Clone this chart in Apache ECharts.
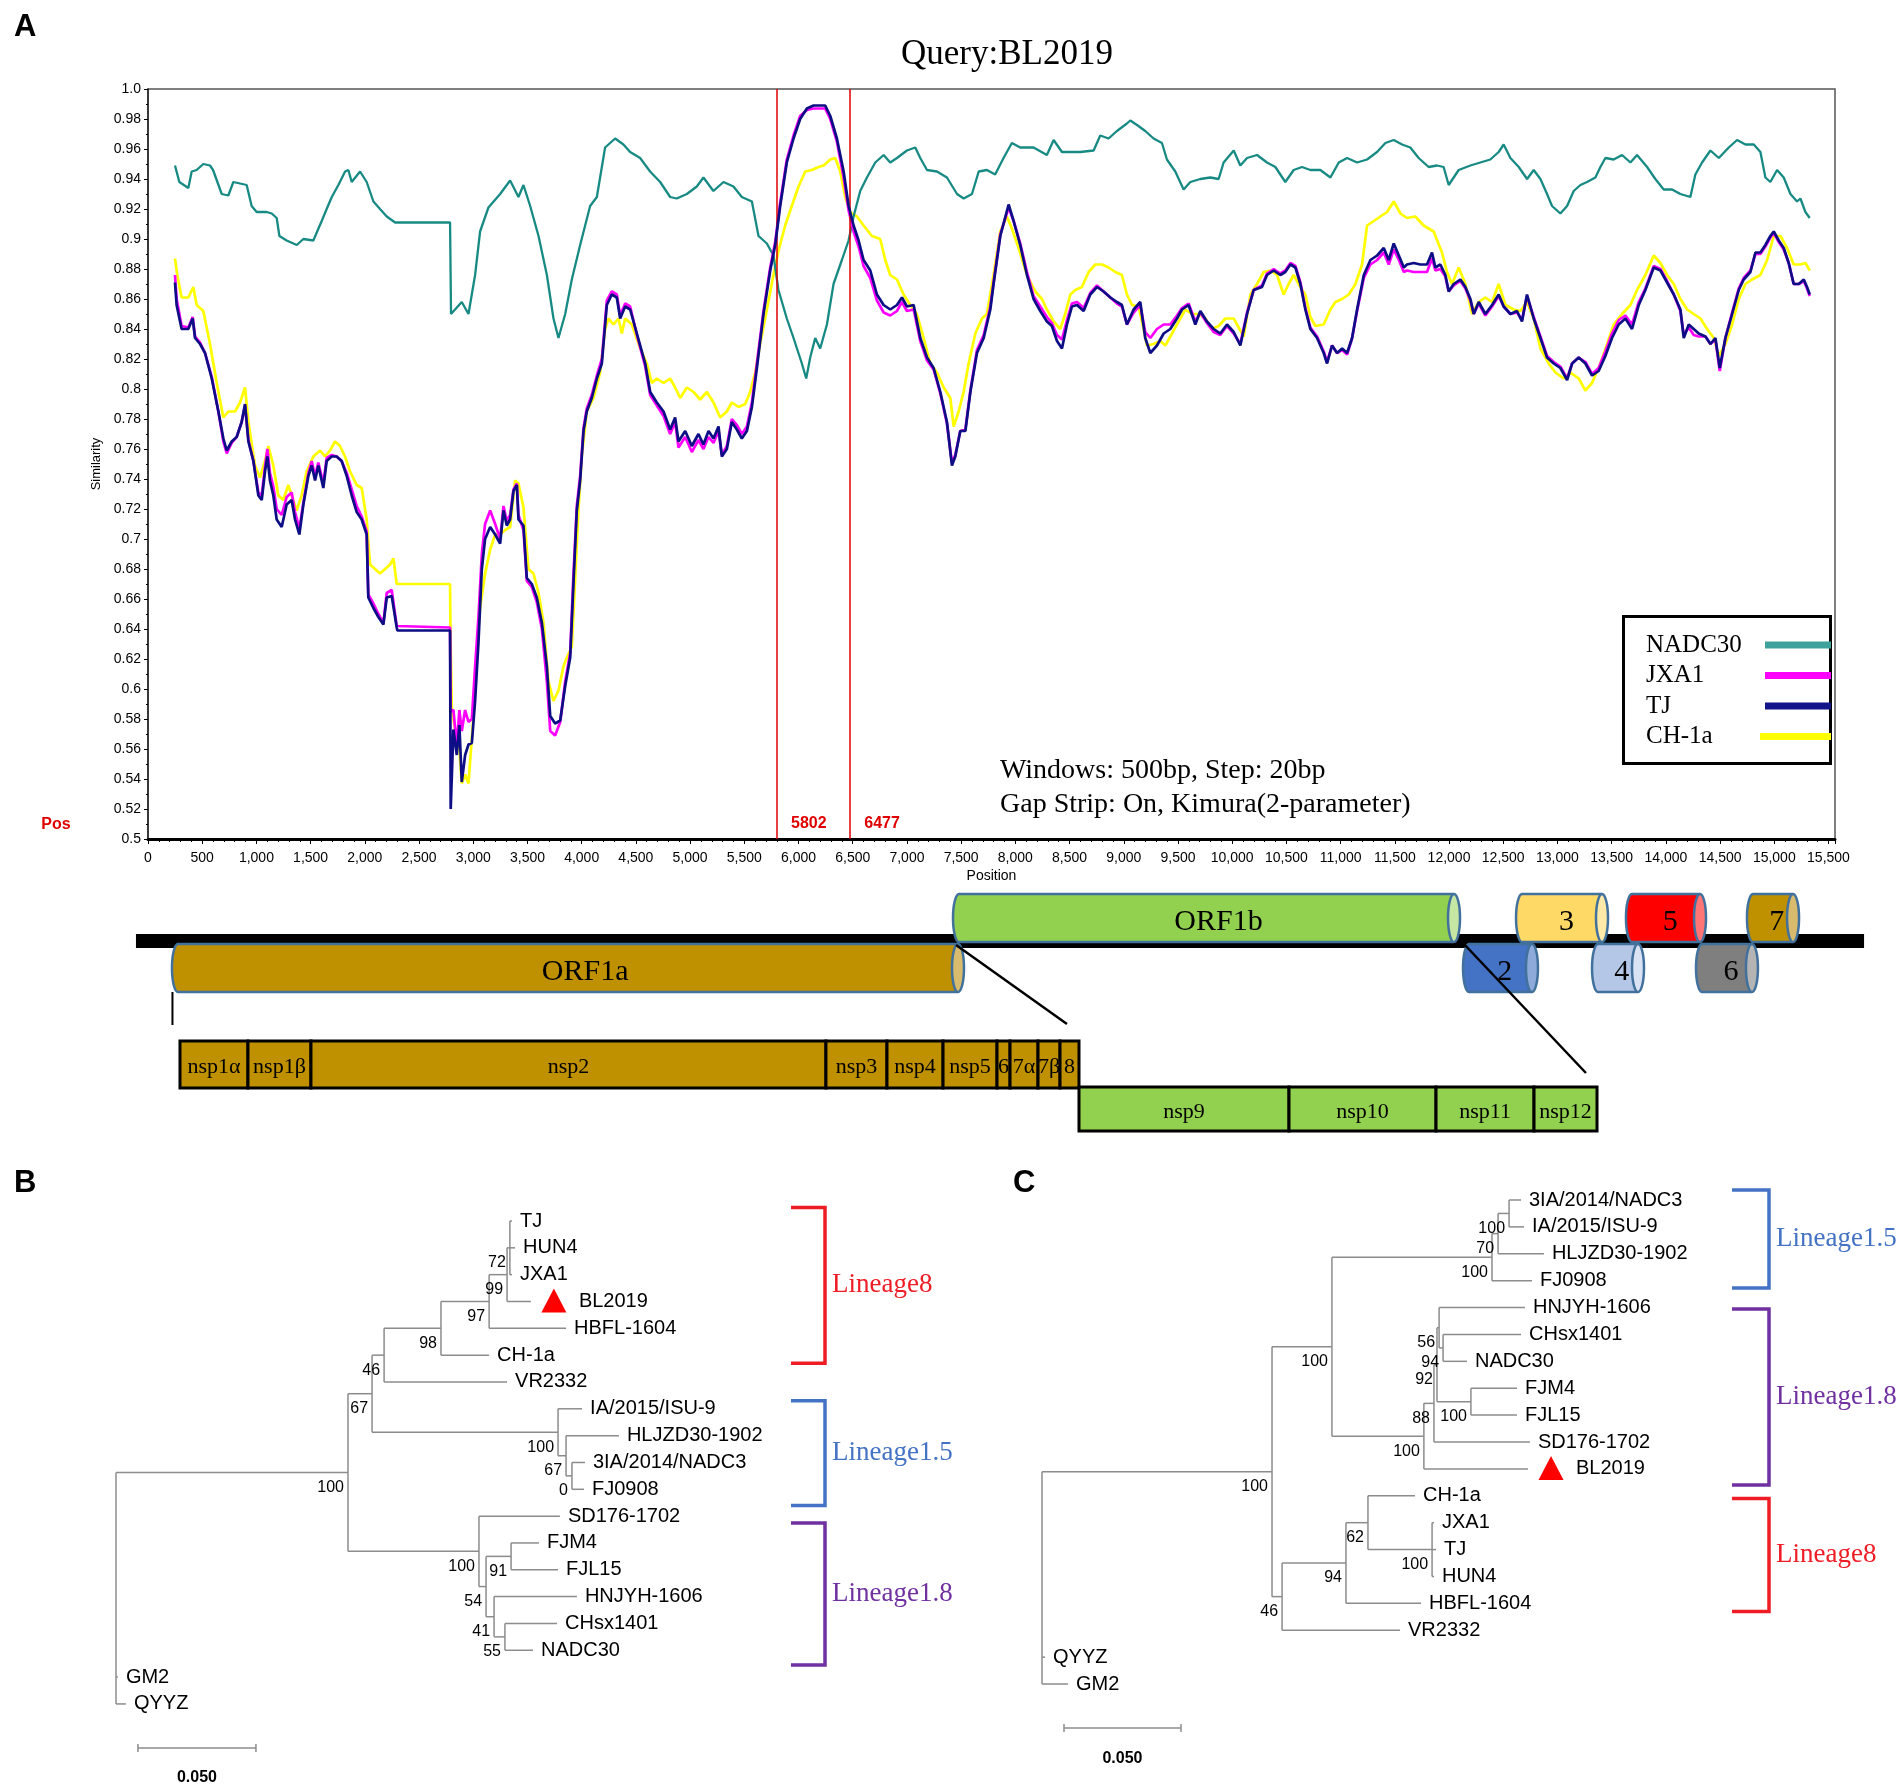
<!DOCTYPE html>
<html lang="en">
<head>
<meta charset="utf-8">
<title>Query:BL2019</title>
<script src="https://cdn.jsdelivr.net/npm/echarts@6/dist/echarts.min.js"></script>
<style>
  html, body { margin: 0; padding: 0; background: #ffffff; }
  #chart { width: 1902px; height: 1791px; }
</style>
</head>
<body>
<div id="chart"></div>
<script>
// ---------- A: similarity plot, query BL2019 (window 500 bp, step 20 bp) ----------
const breakpoints = [5802, 6477];

const nadc30Sim = [[249,0.949],[289,0.938],[372,0.934],[403,0.945],[449,0.946],[510,0.950],[572,0.949],[600,0.946],[680,0.930],[741,0.929],[787,0.938],[849,0.937],[910,0.936],[956,0.922],[1002,0.918],[1095,0.918],[1141,0.917],[1187,0.914],[1212,0.902],[1279,0.899],[1372,0.896],[1433,0.900],[1525,0.899],[1602,0.912],[1648,0.920],[1695,0.928],[1756,0.936],[1818,0.945],[1848,0.946],[1879,0.938],[1956,0.945],[2017,0.938],[2079,0.925],[2140,0.920],[2202,0.915],[2279,0.911],[2786,0.911],[2795,0.850],[2832,0.853],[2894,0.858],[2956,0.850],[3017,0.876],[3063,0.905],[3140,0.921],[3248,0.930],[3340,0.939],[3417,0.928],[3463,0.936],[3525,0.922],[3602,0.902],[3679,0.876],[3740,0.847],[3786,0.834],[3848,0.850],[3909,0.873],[3986,0.896],[4078,0.922],[4140,0.928],[4216,0.961],[4309,0.967],[4385,0.963],[4447,0.958],[4539,0.954],[4631,0.945],[4724,0.938],[4816,0.928],[4877,0.927],[4970,0.930],[5062,0.935],[5123,0.941],[5215,0.932],[5308,0.938],[5400,0.935],[5477,0.928],[5570,0.925],[5631,0.902],[5708,0.897],[5769,0.889],[5815,0.866],[5892,0.847],[5954,0.834],[6031,0.817],[6071,0.807],[6108,0.821],[6154,0.834],[6200,0.827],[6262,0.843],[6323,0.870],[6400,0.886],[6462,0.899],[6508,0.915],[6569,0.932],[6631,0.941],[6708,0.951],[6785,0.956],[6846,0.951],[6908,0.954],[7000,0.959],[7077,0.961],[7123,0.954],[7185,0.946],[7277,0.945],[7369,0.941],[7462,0.930],[7523,0.927],[7600,0.930],[7662,0.945],[7738,0.946],[7814,0.943],[7891,0.954],[7968,0.964],[8045,0.961],[8168,0.961],[8291,0.956],[8353,0.966],[8430,0.958],[8522,0.958],[8599,0.958],[8722,0.959],[8783,0.969],[8860,0.967],[8937,0.972],[9029,0.977],[9060,0.979],[9122,0.976],[9198,0.972],[9275,0.967],[9352,0.964],[9398,0.953],[9475,0.945],[9552,0.933],[9614,0.938],[9706,0.940],[9798,0.941],[9875,0.940],[9921,0.951],[10014,0.959],[10075,0.949],[10137,0.954],[10229,0.956],[10321,0.951],[10398,0.948],[10490,0.938],[10567,0.946],[10644,0.948],[10721,0.946],[10813,0.946],[10906,0.941],[10983,0.951],[11060,0.954],[11152,0.951],[11244,0.953],[11336,0.958],[11413,0.964],[11490,0.966],[11567,0.963],[11643,0.961],[11720,0.954],[11812,0.948],[11889,0.949],[11950,0.948],[11997,0.936],[12089,0.946],[12197,0.949],[12289,0.951],[12381,0.953],[12458,0.958],[12504,0.963],[12566,0.954],[12643,0.948],[12720,0.940],[12781,0.946],[12843,0.940],[12904,0.930],[12950,0.922],[13027,0.917],[13089,0.922],[13150,0.932],[13212,0.936],[13273,0.938],[13350,0.941],[13396,0.948],[13442,0.954],[13519,0.953],[13596,0.956],[13673,0.951],[13734,0.956],[13827,0.948],[13903,0.940],[13980,0.933],[14057,0.933],[14134,0.930],[14226,0.928],[14272,0.943],[14334,0.951],[14411,0.959],[14488,0.954],[14580,0.961],[14657,0.966],[14734,0.963],[14811,0.963],[14872,0.958],[14918,0.941],[14964,0.938],[15026,0.946],[15087,0.941],[15149,0.930],[15210,0.925],[15241,0.927],[15287,0.918],[15327,0.914]];

const jxa1Sim = [[249,0.876],[264,0.860],[310,0.842],[372,0.841],[412,0.848],[434,0.835],[480,0.831],[526,0.824],[588,0.808],[649,0.785],[695,0.765],[726,0.757],[772,0.764],[818,0.768],[864,0.778],[895,0.789],[926,0.766],[972,0.752],[1018,0.731],[1049,0.729],[1079,0.748],[1101,0.760],[1125,0.744],[1156,0.735],[1187,0.720],[1233,0.716],[1279,0.728],[1325,0.731],[1356,0.718],[1396,0.707],[1433,0.724],[1479,0.744],[1510,0.752],[1541,0.742],[1571,0.751],[1617,0.737],[1648,0.754],[1694,0.756],[1740,0.755],[1786,0.752],[1833,0.744],[1879,0.733],[1925,0.722],[1971,0.715],[2017,0.705],[2032,0.663],[2079,0.657],[2125,0.650],[2171,0.644],[2202,0.664],[2248,0.666],[2294,0.642],[2300,0.641],[2786,0.641],[2792,0.585],[2817,0.586],[2848,0.562],[2872,0.586],[2894,0.572],[2925,0.586],[2956,0.578],[2987,0.580],[3017,0.615],[3048,0.648],[3079,0.690],[3109,0.710],[3156,0.719],[3202,0.710],[3248,0.700],[3279,0.722],[3309,0.712],[3340,0.716],[3371,0.733],[3402,0.737],[3417,0.716],[3463,0.706],[3494,0.672],[3540,0.668],[3586,0.658],[3633,0.640],[3679,0.605],[3710,0.572],[3755,0.569],[3802,0.578],[3848,0.605],[3894,0.624],[3924,0.676],[3955,0.722],[3986,0.742],[4017,0.774],[4047,0.787],[4093,0.796],[4140,0.809],[4186,0.820],[4232,0.859],[4278,0.865],[4324,0.863],[4355,0.849],[4401,0.857],[4447,0.855],[4509,0.836],[4586,0.815],[4632,0.796],[4693,0.789],[4755,0.782],[4816,0.770],[4862,0.778],[4893,0.761],[4955,0.768],[5016,0.758],[5077,0.766],[5123,0.760],[5170,0.768],[5216,0.764],[5262,0.772],[5293,0.756],[5339,0.762],[5385,0.780],[5431,0.776],[5477,0.770],[5524,0.775],[5570,0.791],[5616,0.817],[5677,0.852],[5739,0.881],[5785,0.898],[5831,0.924],[5892,0.953],[5954,0.969],[6015,0.982],[6077,0.986],[6139,0.987],[6246,0.987],[6293,0.980],[6354,0.965],[6416,0.941],[6462,0.919],[6508,0.905],[6554,0.895],[6600,0.882],[6662,0.874],[6723,0.859],[6785,0.851],[6846,0.849],[6908,0.852],[6954,0.858],[7000,0.852],[7062,0.853],[7123,0.832],[7185,0.819],[7246,0.813],[7308,0.797],[7369,0.777],[7415,0.751],[7446,0.756],[7492,0.772],[7539,0.773],[7585,0.799],[7646,0.826],[7708,0.836],[7769,0.855],[7799,0.871],[7861,0.903],[7938,0.921],[7984,0.912],[8045,0.897],[8107,0.878],[8168,0.862],[8230,0.855],[8291,0.848],[8337,0.844],[8384,0.836],[8430,0.833],[8476,0.846],[8522,0.857],[8568,0.858],[8630,0.854],[8691,0.864],[8753,0.869],[8814,0.865],[8876,0.861],[8937,0.857],[8983,0.855],[9029,0.843],[9091,0.851],[9152,0.856],[9198,0.838],[9245,0.834],[9306,0.840],[9368,0.843],[9429,0.843],[9491,0.849],[9537,0.854],[9598,0.857],[9660,0.845],[9706,0.851],[9767,0.844],[9829,0.838],[9890,0.836],[9952,0.842],[10014,0.837],[10075,0.830],[10137,0.851],[10198,0.866],[10275,0.869],[10321,0.877],[10383,0.880],[10444,0.877],[10490,0.879],[10537,0.884],[10583,0.882],[10629,0.871],[10675,0.854],[10721,0.841],[10783,0.835],[10844,0.825],[10875,0.818],[10921,0.829],[10967,0.824],[11014,0.826],[11060,0.823],[11106,0.834],[11152,0.852],[11214,0.874],[11275,0.883],[11337,0.886],[11398,0.891],[11444,0.883],[11490,0.893],[11537,0.886],[11583,0.878],[11612,0.879],[11674,0.878],[11735,0.878],[11797,0.878],[11843,0.887],[11874,0.879],[11920,0.880],[11966,0.875],[11997,0.865],[12043,0.869],[12105,0.872],[12151,0.867],[12197,0.859],[12228,0.850],[12274,0.857],[12335,0.849],[12397,0.855],[12458,0.862],[12504,0.855],[12566,0.850],[12627,0.851],[12673,0.846],[12719,0.862],[12781,0.848],[12843,0.835],[12904,0.822],[12966,0.818],[13027,0.815],[13089,0.807],[13135,0.817],[13196,0.821],[13258,0.818],[13319,0.810],[13380,0.814],[13442,0.825],[13503,0.837],[13565,0.846],[13627,0.849],[13688,0.843],[13750,0.858],[13811,0.867],[13888,0.882],[13950,0.880],[14011,0.872],[14073,0.863],[14134,0.852],[14165,0.836],[14211,0.841],[14257,0.836],[14303,0.835],[14365,0.835],[14411,0.830],[14457,0.833],[14497,0.812],[14549,0.834],[14611,0.851],[14672,0.867],[14718,0.874],[14780,0.879],[14826,0.890],[14872,0.890],[14918,0.895],[14964,0.901],[14995,0.904],[15041,0.898],[15087,0.893],[15133,0.884],[15179,0.870],[15226,0.870],[15272,0.872],[15302,0.867],[15327,0.862]];

const tjSim = [[249,0.871],[264,0.856],[310,0.840],[372,0.840],[412,0.847],[434,0.834],[480,0.830],[526,0.824],[588,0.807],[649,0.785],[695,0.767],[726,0.759],[772,0.765],[818,0.768],[864,0.778],[895,0.790],[926,0.765],[972,0.752],[1018,0.729],[1049,0.726],[1079,0.745],[1101,0.755],[1125,0.739],[1156,0.729],[1187,0.713],[1233,0.708],[1279,0.723],[1325,0.726],[1356,0.713],[1396,0.703],[1433,0.723],[1479,0.742],[1510,0.749],[1541,0.739],[1571,0.749],[1617,0.734],[1648,0.752],[1694,0.755],[1740,0.755],[1786,0.752],[1833,0.742],[1879,0.729],[1925,0.718],[1971,0.713],[2017,0.703],[2032,0.661],[2079,0.654],[2125,0.648],[2171,0.643],[2202,0.661],[2248,0.662],[2294,0.641],[2300,0.639],[2786,0.639],[2792,0.520],[2817,0.573],[2848,0.556],[2872,0.576],[2894,0.538],[2925,0.556],[2956,0.563],[2987,0.564],[3017,0.592],[3048,0.631],[3079,0.680],[3109,0.700],[3156,0.708],[3202,0.703],[3248,0.697],[3279,0.719],[3309,0.709],[3340,0.713],[3371,0.732],[3402,0.736],[3417,0.713],[3463,0.709],[3494,0.674],[3540,0.670],[3586,0.661],[3633,0.644],[3679,0.615],[3710,0.582],[3755,0.577],[3802,0.579],[3848,0.602],[3894,0.621],[3924,0.670],[3955,0.719],[3986,0.739],[4017,0.772],[4047,0.785],[4093,0.794],[4140,0.807],[4186,0.817],[4232,0.856],[4278,0.863],[4324,0.861],[4355,0.847],[4401,0.855],[4447,0.853],[4509,0.837],[4586,0.817],[4632,0.798],[4693,0.791],[4755,0.785],[4816,0.773],[4862,0.781],[4893,0.765],[4955,0.772],[5016,0.762],[5077,0.770],[5123,0.763],[5170,0.772],[5216,0.767],[5262,0.775],[5293,0.755],[5339,0.760],[5385,0.778],[5431,0.773],[5477,0.767],[5524,0.772],[5570,0.788],[5616,0.814],[5677,0.850],[5739,0.879],[5785,0.896],[5831,0.922],[5892,0.951],[5954,0.967],[6015,0.980],[6077,0.987],[6139,0.989],[6246,0.989],[6293,0.982],[6354,0.967],[6416,0.945],[6462,0.922],[6508,0.909],[6554,0.899],[6600,0.886],[6662,0.879],[6723,0.863],[6785,0.856],[6846,0.853],[6908,0.856],[6954,0.861],[7000,0.855],[7062,0.856],[7123,0.834],[7185,0.821],[7246,0.814],[7308,0.798],[7369,0.778],[7415,0.749],[7446,0.755],[7492,0.772],[7539,0.772],[7585,0.798],[7646,0.824],[7708,0.834],[7769,0.853],[7799,0.870],[7861,0.902],[7938,0.923],[7984,0.912],[8045,0.896],[8107,0.876],[8168,0.860],[8230,0.852],[8291,0.845],[8337,0.842],[8384,0.832],[8430,0.827],[8476,0.843],[8522,0.855],[8568,0.856],[8630,0.852],[8691,0.863],[8753,0.868],[8814,0.865],[8876,0.861],[8937,0.858],[8983,0.856],[9029,0.843],[9091,0.853],[9152,0.858],[9198,0.834],[9245,0.824],[9306,0.829],[9368,0.837],[9429,0.840],[9491,0.847],[9537,0.853],[9598,0.856],[9660,0.843],[9706,0.852],[9767,0.845],[9829,0.840],[9890,0.837],[9952,0.843],[10014,0.838],[10075,0.829],[10137,0.850],[10198,0.866],[10275,0.868],[10321,0.876],[10383,0.879],[10444,0.876],[10490,0.878],[10537,0.883],[10583,0.881],[10629,0.870],[10675,0.853],[10721,0.840],[10783,0.834],[10844,0.824],[10875,0.817],[10921,0.829],[10967,0.824],[11014,0.827],[11060,0.824],[11106,0.834],[11152,0.853],[11214,0.876],[11275,0.886],[11337,0.889],[11398,0.894],[11444,0.886],[11490,0.897],[11537,0.889],[11583,0.881],[11612,0.883],[11674,0.884],[11735,0.883],[11797,0.883],[11843,0.891],[11874,0.881],[11920,0.883],[11966,0.876],[11997,0.865],[12043,0.870],[12105,0.873],[12151,0.868],[12197,0.860],[12228,0.850],[12274,0.858],[12335,0.850],[12397,0.856],[12458,0.863],[12504,0.855],[12566,0.850],[12627,0.852],[12673,0.845],[12719,0.863],[12781,0.847],[12843,0.834],[12904,0.821],[12966,0.817],[13027,0.814],[13089,0.806],[13135,0.817],[13196,0.821],[13258,0.817],[13319,0.809],[13380,0.812],[13442,0.822],[13503,0.834],[13565,0.843],[13627,0.847],[13688,0.840],[13750,0.856],[13811,0.866],[13888,0.881],[13950,0.879],[14011,0.871],[14073,0.863],[14134,0.853],[14165,0.834],[14211,0.843],[14257,0.840],[14303,0.837],[14365,0.835],[14411,0.830],[14457,0.834],[14497,0.814],[14549,0.834],[14611,0.850],[14672,0.866],[14718,0.873],[14780,0.878],[14826,0.891],[14872,0.891],[14918,0.896],[14964,0.902],[14995,0.905],[15041,0.899],[15087,0.894],[15133,0.884],[15179,0.870],[15226,0.870],[15272,0.873],[15302,0.868],[15327,0.863]];

const ch1aSim = [[249,0.887],[270,0.876],[310,0.861],[372,0.861],[418,0.868],[449,0.856],[510,0.852],[572,0.830],[634,0.804],[695,0.781],[741,0.785],[803,0.785],[849,0.791],[895,0.801],[926,0.778],[987,0.749],[1033,0.741],[1079,0.752],[1110,0.762],[1156,0.749],[1202,0.729],[1248,0.726],[1294,0.736],[1325,0.729],[1371,0.719],[1417,0.729],[1463,0.745],[1525,0.755],[1587,0.759],[1633,0.755],[1679,0.759],[1725,0.765],[1771,0.762],[1817,0.755],[1864,0.745],[1925,0.736],[1971,0.734],[2017,0.713],[2048,0.683],[2094,0.680],[2140,0.677],[2187,0.680],[2233,0.683],[2264,0.687],[2294,0.670],[2786,0.670],[2790,0.638],[2802,0.586],[2833,0.573],[2863,0.569],[2894,0.537],[2925,0.543],[2956,0.537],[3002,0.582],[3033,0.625],[3063,0.654],[3109,0.677],[3156,0.693],[3202,0.703],[3248,0.703],[3294,0.706],[3340,0.708],[3386,0.739],[3417,0.737],[3463,0.721],[3509,0.680],[3555,0.677],[3602,0.664],[3648,0.644],[3694,0.605],[3740,0.592],[3786,0.599],[3832,0.615],[3863,0.621],[3909,0.628],[3940,0.674],[3970,0.719],[4001,0.755],[4047,0.785],[4109,0.794],[4170,0.811],[4216,0.840],[4247,0.847],[4293,0.843],[4340,0.847],[4370,0.837],[4401,0.847],[4463,0.843],[4540,0.827],[4601,0.817],[4647,0.804],[4693,0.807],[4755,0.804],[4816,0.807],[4862,0.801],[4909,0.794],[4970,0.801],[5032,0.798],[5093,0.793],[5155,0.798],[5216,0.791],[5277,0.781],[5339,0.785],[5385,0.791],[5447,0.788],[5508,0.790],[5554,0.798],[5600,0.811],[5646,0.830],[5708,0.853],[5769,0.876],[5815,0.892],[5877,0.909],[5938,0.922],[6000,0.935],[6062,0.945],[6123,0.946],[6185,0.948],[6231,0.949],[6293,0.953],[6339,0.954],[6385,0.945],[6431,0.928],[6477,0.918],[6539,0.915],[6600,0.909],[6677,0.902],[6754,0.900],[6800,0.886],[6846,0.876],[6908,0.873],[6969,0.863],[7031,0.856],[7092,0.850],[7154,0.834],[7216,0.817],[7277,0.811],[7339,0.801],[7400,0.794],[7431,0.775],[7477,0.785],[7523,0.798],[7569,0.817],[7631,0.837],[7692,0.847],[7738,0.850],[7799,0.876],[7861,0.905],[7922,0.915],[7968,0.907],[8030,0.894],[8107,0.876],[8184,0.865],[8245,0.860],[8291,0.853],[8353,0.845],[8414,0.840],[8460,0.850],[8507,0.863],[8553,0.866],[8614,0.868],[8676,0.878],[8737,0.883],[8799,0.883],[8860,0.881],[8922,0.878],[8983,0.876],[9029,0.863],[9076,0.856],[9137,0.855],[9183,0.840],[9214,0.829],[9275,0.830],[9337,0.832],[9383,0.829],[9445,0.837],[9506,0.845],[9568,0.853],[9629,0.850],[9691,0.850],[9752,0.847],[9814,0.840],[9875,0.842],[9937,0.847],[10014,0.847],[10106,0.835],[10168,0.863],[10229,0.870],[10291,0.878],[10352,0.879],[10414,0.876],[10475,0.863],[10521,0.870],[10567,0.876],[10629,0.868],[10675,0.863],[10721,0.848],[10767,0.842],[10844,0.843],[10906,0.853],[10952,0.858],[11014,0.860],[11075,0.863],[11137,0.870],[11198,0.883],[11244,0.909],[11306,0.912],[11367,0.915],[11429,0.918],[11490,0.925],[11552,0.917],[11612,0.914],[11689,0.915],[11766,0.909],[11858,0.905],[11935,0.891],[11981,0.878],[12028,0.870],[12089,0.881],[12151,0.870],[12212,0.850],[12274,0.858],[12335,0.861],[12397,0.858],[12458,0.870],[12520,0.856],[12597,0.853],[12658,0.852],[12719,0.858],[12781,0.847],[12843,0.827],[12920,0.817],[12981,0.811],[13058,0.807],[13120,0.811],[13196,0.807],[13258,0.799],[13319,0.804],[13396,0.817],[13458,0.830],[13519,0.843],[13596,0.850],[13673,0.856],[13734,0.866],[13811,0.876],[13888,0.889],[13950,0.884],[14011,0.876],[14073,0.870],[14134,0.860],[14196,0.853],[14257,0.850],[14319,0.847],[14380,0.840],[14442,0.834],[14488,0.822],[14549,0.830],[14611,0.843],[14672,0.860],[14734,0.870],[14795,0.873],[14872,0.876],[14934,0.886],[14995,0.902],[15057,0.902],[15118,0.894],[15179,0.883],[15241,0.883],[15287,0.884],[15327,0.879]];

// ---------- genome map, in nt on the same scale as the plot ----------
const genomeSpan = [-111, 15828];
const orfNames = ['ORF1a', 'ORF1b', '2', '3', '4', '5', '6', '7'];
const orfStart = [221, 7425, 12129, 12618, 13319, 13632, 14278, 14748];
const orfEnd   = [7471, 12046, 12765, 13411, 13743, 14315, 14794, 15173];
const orfTrack = ['lower', 'upper', 'lower', 'upper', 'lower', 'upper', 'lower', 'upper'];
// expanded nsp panel (schematic widths, same units)
const nspNames = ['nsp1\u03b1', 'nsp1\u03b2', 'nsp2', 'nsp3', 'nsp4', 'nsp5', '6', '7\u03b1', '7\u03b2', '8', 'nsp9', 'nsp10', 'nsp11', 'nsp12'];
const nspStart = [295, 922, 1503, 6253, 6816, 7333, 7831, 7951, 8209, 8412, 8587, 10524, 11880, 12784];
const nspEnd   = [922, 1503, 6253, 6816, 7333, 7831, 7951, 8209, 8412, 8587, 10524, 11880, 12784, 13365];
const nspRow   = [1, 1, 1, 1, 1, 1, 1, 1, 1, 1, 2, 2, 2, 2];
const linkFrom = [7453, 12129];
const linkTo   = [8476, 13263];

// ---------- B / C: trees; [node, parent, distance from root, bootstrap] ----------
const treeBNodes = [
  ['root', '', 0, ''],
  ['b100', 'root', 0.0983, '100'],
  ['b67', 'b100', 0.1085, '67'],
  ['b46', 'b67', 0.1136, '46'],
  ['b98', 'b46', 0.1377, '98'],
  ['b97', 'b98', 0.1581, '97'],
  ['b99', 'b97', 0.1657, '99'],
  ['b72', 'b99', 0.1669, '72'],
  ['TJ', 'b72', 0.1678, ''],
  ['HUN4', 'b72', 0.1691, ''],
  ['JXA1', 'b72', 0.1678, ''],
  ['BL2019', 'b99', 0.1758, ''],
  ['HBFL-1604', 'b97', 0.1907, ''],
  ['CH-1a', 'b98', 0.1581, ''],
  ['VR2332', 'b46', 0.1657, ''],
  ['bL15', 'b67', 0.1873, '100'],
  ['IA/2015/ISU-9', 'bL15', 0.1975, ''],
  ['b67b', 'bL15', 0.1907, '67'],
  ['HLJZD30-1902', 'b67b', 0.2131, ''],
  ['b0', 'b67b', 0.1932, '0'],
  ['3IA/2014/NADC3', 'b0', 0.1987, ''],
  ['FJ0908', 'b0', 0.1983, ''],
  ['bL18', 'b100', 0.1538, '100'],
  ['SD176-1702', 'bL18', 0.1881, ''],
  ['b54', 'bL18', 0.1568, '54'],
  ['b91', 'b54', 0.1674, '91'],
  ['FJM4', 'b91', 0.1792, ''],
  ['FJL15', 'b91', 0.1873, ''],
  ['b41', 'b54', 0.1602, '41'],
  ['HNJYH-1606', 'b41', 0.1953, ''],
  ['b55', 'b41', 0.1648, '55'],
  ['CHsx1401', 'b55', 0.1869, ''],
  ['NADC30', 'b55', 0.1767, ''],
  ['GM2', 'root', 0.0008, ''],
  ['QYYZ', 'root', 0.0042, '']
];

const treeCNodes = [
  ['root', '', 0, ''],
  ['c100', 'root', 0.0983, '100'],
  ['c100b', 'c100', 0.1239, '100'],
  ['cL15', 'c100b', 0.1923, '100'],
  ['c70', 'cL15', 0.1949, '70'],
  ['c100d', 'c70', 0.1996, '100'],
  ['3IA/2014/NADC3', 'c100d', 0.2047, ''],
  ['IA/2015/ISU-9', 'c100d', 0.2060, ''],
  ['HLJZD30-1902', 'c70', 0.2145, ''],
  ['FJ0908', 'cL15', 0.2094, ''],
  ['cL18', 'c100b', 0.1632, '100'],
  ['c88', 'cL18', 0.1675, '88'],
  ['c92', 'c88', 0.1688, '92'],
  ['c56', 'c92', 0.1697, '56'],
  ['HNJYH-1606', 'c56', 0.2064, ''],
  ['c94b', 'c56', 0.1714, '94'],
  ['CHsx1401', 'c94b', 0.2047, ''],
  ['NADC30', 'c94b', 0.1816, ''],
  ['c100e', 'c92', 0.1833, '100'],
  ['FJM4', 'c100e', 0.2030, ''],
  ['FJL15', 'c100e', 0.2030, ''],
  ['SD176-1702', 'c88', 0.2085, ''],
  ['BL2019', 'cL18', 0.2077, ''],
  ['c46', 'c100', 0.1026, '46'],
  ['c94', 'c46', 0.1299, '94'],
  ['c62', 'c94', 0.1393, '62'],
  ['CH-1a', 'c62', 0.1594, ''],
  ['c100f', 'c62', 0.1667, '100'],
  ['JXA1', 'c100f', 0.1675, ''],
  ['TJ', 'c100f', 0.1684, ''],
  ['HUN4', 'c100f', 0.1675, ''],
  ['HBFL-1604', 'c94', 0.1620, ''],
  ['VR2332', 'c46', 0.1530, ''],
  ['QYYZ', 'root', 0.0013, ''],
  ['GM2', 'root', 0.0111, '']
];

// lineage brackets, in leaf rows
const lineagesB = [['Lineage8', -0.5, 5.3], ['Lineage1.5', 6.7, 10.6], ['Lineage1.8', 11.26, 16.55]];
const lineagesC = [['Lineage1.5', -0.37, 3.27], ['Lineage1.8', 4.05, 10.6], ['Lineage8', 11.1, 15.3]];
const scaleBarLength = 0.05;

// ---------- styles / layout ----------
const SANS = "'Liberation Sans', Arial, sans-serif";
const SERIF = "'Liberation Serif', 'Times New Roman', serif";
const simColor = { 'NADC30': '#178a84', 'JXA1': '#ff00ff', 'TJ': '#0d0d85', 'CH-1a': '#ffff00' };
const legendColor = { 'NADC30': '#3fa19b', 'JXA1': '#ff00ff', 'TJ': '#13138a', 'CH-1a': '#ffff00' };
const orfFill = ['#bf9000', '#92d050', '#4472c4', '#ffd966', '#b4c7e7', '#ff0000', '#7f7f7f', '#bf9000'];
const orfCap  = ['#d9bb6e', '#c6e7a4', '#8eaadb', '#ffe9a8', '#d9e3f3', '#ff7575', '#b4b4b4', '#d9bb6e'];
const lineageColor = { 'Lineage8': '#ee1c25', 'Lineage1.5': '#4472c4', 'Lineage1.8': '#7030a0' };
const ORF_EDGE = '#41719c';
const BRANCH = { stroke: '#8c8c8c', lineWidth: 1.5 };

const PLOT = { left: 148, top: 89, width: 1687, height: 750, xMax: 15560 };
const MAP = { top: 880, barY: 941, barH: 14, upperY: 918, lowerY: 968, cylH: 48, rx: 6,
  row1Top: 1041, row1H: 47, row2Top: 1087, row2H: 44,
  linkTopY: [945, 943], linkBottomY: [1024, 1073], startTickY: [992, 1025] };
const TREE_B = { left: 116, top: 1221, pxPerUnit: 2360, pxPerLeaf: 26.83, bracketX: 825, tickX: 791, barStart: 0.0093, barRow: 19.64 };
const TREE_C = { left: 1042, top: 1200, pxPerUnit: 2340, pxPerLeaf: 26.89, bracketX: 1769, tickX: 1732, barStart: 0.0094, barRow: 19.64 };
const TREE_XMAX = 0.3, TREE_ROWS = 20;

function txt(text, x, y, font, fill, align, vAlign) {
  return { type: 'text', silent: true, style: { text, x, y, font, fill: fill || '#000',
    align: align || 'left', textAlign: align || 'left', verticalAlign: vAlign || 'middle', textVerticalAlign: vAlign || 'middle' } };
}

function layoutTree(nodes) {
  const byName = {};
  nodes.forEach(([name, parent, depth, boot]) => { byName[name] = { name, parent, depth, boot, kids: [] }; });
  nodes.forEach(([name, parent]) => { if (parent) byName[parent].kids.push(byName[name]); });
  let row = 0;
  (function place(n) {
    if (!n.kids.length) { n.y = row++; return; }
    n.kids.forEach(place);
    const ys = n.kids.map(k => k.y);
    n.yMin = Math.min(...ys);
    n.yMax = Math.max(...ys);
    n.y = (n.kids[0].y + n.kids[n.kids.length - 1].y) / 2;
  })(byName.root);
  return { items: nodes.map(([name]) => byName[name]), byName };
}

function cylinder(x0, x1, cy, h, fill, cap, rx) {
  const ry = h / 2;
  const edge = { stroke: ORF_EDGE, lineWidth: 2.5 };
  return [
    { type: 'ellipse', shape: { cx: x0 + rx, cy, rx, ry }, style: Object.assign({ fill }, edge) },
    { type: 'rect', shape: { x: x0 + rx, y: cy - ry, width: x1 - x0 - rx, height: h }, style: { fill } },
    { type: 'line', shape: { x1: x0 + rx, y1: cy - ry, x2: x1, y2: cy - ry }, style: edge },
    { type: 'line', shape: { x1: x0 + rx, y1: cy + ry, x2: x1, y2: cy + ry }, style: edge },
    { type: 'ellipse', shape: { cx: x1, cy, rx, ry }, style: Object.assign({ fill: cap }, edge) }
  ];
}

function treeSeries(nodes, lineages, L, axisIndex) {
  const { items, byName } = layoutTree(nodes);
  return [
    {
      type: 'custom', xAxisIndex: axisIndex, yAxisIndex: axisIndex, clip: false, silent: true,
      data: items.map(n => [n.depth, n.y]),
      renderItem(params, api) {
        const n = items[params.dataIndex];
        const p = api.coord([n.depth, n.y]);
        const out = [];
        if (n.parent) {
          const q = api.coord([byName[n.parent].depth, n.y]);
          out.push({ type: 'line', shape: { x1: q[0], y1: q[1], x2: p[0], y2: p[1] }, style: BRANCH });
        }
        if (n.kids.length) {
          const a = api.coord([n.depth, n.yMin]);
          const b = api.coord([n.depth, n.yMax]);
          out.push({ type: 'line', shape: { x1: a[0], y1: a[1], x2: b[0], y2: b[1] }, style: BRANCH });
          if (n.boot) out.push(txt(n.boot, p[0] - 4, p[1] + 15, '16px ' + SANS, '#000', 'right'));
        } else if (n.name === 'BL2019') {
          const cx = p[0] + 23, cy = p[1];
          out.push({ type: 'polygon', shape: { points: [[cx, cy - 13], [cx - 12.5, cy + 11], [cx + 12.5, cy + 11]] }, style: { fill: '#ff0000' } });
          out.push(txt(n.name, p[0] + 48, p[1], '20px ' + SANS));
        } else {
          out.push(txt(n.name, p[0] + 8, p[1], '20px ' + SANS));
        }
        return { type: 'group', children: out };
      }
    },
    {
      type: 'custom', xAxisIndex: axisIndex, yAxisIndex: axisIndex, clip: false, silent: true,
      data: lineages.map(l => [0, l[1]]),
      renderItem(params, api) {
        const [name, from, to] = lineages[params.dataIndex];
        const yA = api.coord([0, from])[1];
        const yB = api.coord([0, to])[1];
        const color = lineageColor[name];
        return { type: 'group', children: [
          { type: 'polyline', shape: { points: [[L.tickX, yA], [L.bracketX, yA], [L.bracketX, yB], [L.tickX, yB]] },
            style: { stroke: color, lineWidth: 3.5, fill: null } },
          txt(name, L.bracketX + 7, (yA + yB) / 2, '27px ' + SERIF, color)
        ] };
      }
    },
    {
      type: 'custom', xAxisIndex: axisIndex, yAxisIndex: axisIndex, clip: false, silent: true,
      data: [[L.barStart, L.barRow]],
      renderItem(params, api) {
        const a = api.coord([L.barStart, L.barRow]);
        const b = api.coord([L.barStart + scaleBarLength, L.barRow]);
        const st = { stroke: '#8c8c8c', lineWidth: 1.5 };
        return { type: 'group', children: [
          { type: 'line', shape: { x1: a[0], y1: a[1], x2: b[0], y2: b[1] }, style: st },
          { type: 'line', shape: { x1: a[0], y1: a[1] - 4, x2: a[0], y2: a[1] + 4 }, style: st },
          { type: 'line', shape: { x1: b[0], y1: b[1] - 4, x2: b[0], y2: b[1] + 4 }, style: st },
          txt(scaleBarLength.toFixed(3), (a[0] + b[0]) / 2, a[1] + 30, 'bold 16px ' + SANS, '#000', 'center')
        ] };
      }
    }
  ];
}

const simLine = (name, data, z, width) => ({
  name, type: 'line', data, xAxisIndex: 0, yAxisIndex: 0, z,
  showSymbol: false, symbol: 'none', silent: true,
  lineStyle: { color: simColor[name], width }, itemStyle: { color: simColor[name] }
});

const chart = echarts.init(document.getElementById('chart'));

const legendNames = ['NADC30', 'JXA1', 'TJ', 'CH-1a'];
const legendGraphic = {
  type: 'group', children: [
    { type: 'rect', shape: { x: 1623.5, y: 616.5, width: 207, height: 147 }, style: { fill: '#fff', stroke: '#000', lineWidth: 3 } }
  ].concat(legendNames.flatMap((name, i) => {
    const y = 645 + i * 30.5;
    return [
      txt(name, 1646, y, '25px ' + SERIF),
      { type: 'line', shape: { x1: name === 'CH-1a' ? 1760 : 1765, y1: y, x2: 1831, y2: y }, style: { stroke: legendColor[name], lineWidth: 7 } }
    ];
  }))
};

const option = {
  animation: false,
  backgroundColor: '#ffffff',
  grid: [
    { left: PLOT.left, top: PLOT.top, width: PLOT.width, height: PLOT.height, show: true, borderColor: '#555', borderWidth: 1.5 },
    { left: PLOT.left, top: MAP.top, width: PLOT.width, height: 260 },
    { left: TREE_B.left, top: TREE_B.top, width: TREE_XMAX * TREE_B.pxPerUnit, height: TREE_ROWS * TREE_B.pxPerLeaf },
    { left: TREE_C.left, top: TREE_C.top, width: TREE_XMAX * TREE_C.pxPerUnit, height: TREE_ROWS * TREE_C.pxPerLeaf }
  ],
  xAxis: [
    {
      gridIndex: 0, type: 'value', min: 0, max: PLOT.xMax, interval: 500,
      name: 'Position', nameLocation: 'middle', nameGap: 30,
      nameTextStyle: { fontFamily: SANS, fontSize: 14, color: '#000' },
      axisLine: { show: true, onZero: false, lineStyle: { color: '#000', width: 3 } },
      axisTick: { show: true, length: 5, lineStyle: { color: '#000', width: 1 } },
      minorTick: { show: true, splitNumber: 5, length: 3, lineStyle: { color: '#000', width: 1 } },
      splitLine: { show: false },
      axisLabel: { showMaxLabel: false, margin: 12, fontFamily: SANS, fontSize: 14, color: '#000',
        formatter: v => v.toLocaleString('en-US') }
    },
    { gridIndex: 1, type: 'value', min: 0, max: PLOT.xMax, show: false },
    { gridIndex: 2, type: 'value', min: 0, max: TREE_XMAX, show: false },
    { gridIndex: 3, type: 'value', min: 0, max: TREE_XMAX, show: false }
  ],
  yAxis: [
    {
      gridIndex: 0, type: 'value', min: 0.5, max: 1.0, interval: 0.02,
      name: 'Similarity', nameLocation: 'middle', nameGap: 44, nameRotate: 90,
      nameTextStyle: { fontFamily: SANS, fontSize: 13, color: '#000' },
      axisLine: { show: true, onZero: false, lineStyle: { color: '#222', width: 1.5 } },
      axisTick: { show: true, length: 4, lineStyle: { color: '#000' } },
      minorTick: { show: true, splitNumber: 2, length: 2, lineStyle: { color: '#000' } },
      splitLine: { show: false },
      axisLabel: { margin: 7, fontFamily: SANS, fontSize: 14, color: '#000',
        formatter: v => (Math.abs(v - 1) < 1e-9 ? '1.0' : String(Math.round(v * 100) / 100)) }
    },
    { gridIndex: 1, type: 'value', min: 0, max: 1, show: false },
    { gridIndex: 2, type: 'value', min: 0, max: TREE_ROWS, inverse: true, show: false },
    { gridIndex: 3, type: 'value', min: 0, max: TREE_ROWS, inverse: true, show: false }
  ],
  series: [
    simLine('CH-1a', ch1aSim, 2, 2.7),
    simLine('NADC30', nadc30Sim, 3, 2.3),
    simLine('JXA1', jxa1Sim, 4, 2.7),
    Object.assign(simLine('TJ', tjSim, 5, 2.7), {
      markLine: {
        silent: true, symbol: 'none', label: { show: false },
        lineStyle: { color: '#e00000', width: 1.5, type: 'solid' },
        data: breakpoints.map(b => ({ xAxis: b }))
      }
    }),
    // breakpoint labels along the bottom of the plot
    {
      type: 'custom', xAxisIndex: 0, yAxisIndex: 0, clip: false, silent: true, z: 6,
      data: breakpoints.map(b => [b, 0.5105]),
      renderItem(params, api) {
        const p = api.coord([api.value(0), api.value(1)]);
        return txt(String(api.value(0)), p[0] + 14, p[1], 'bold 16px ' + SANS, '#e00000', 'left');
      }
    },
    // genome backbone + start tick
    {
      type: 'custom', xAxisIndex: 1, yAxisIndex: 1, clip: false, silent: true, z: 1,
      data: [[genomeSpan[0], 0.5, genomeSpan[1]]],
      encode: { x: [0, 2], y: 1 },
      renderItem(params, api) {
        const a = api.coord([api.value(0), 0.5])[0];
        const b = api.coord([api.value(2), 0.5])[0];
        const s = api.coord([orfStart[0], 0.5])[0] + 0.5;
        return { type: 'group', children: [
          { type: 'rect', shape: { x: a, y: MAP.barY - MAP.barH / 2, width: b - a, height: MAP.barH }, style: { fill: '#000' } },
          { type: 'line', shape: { x1: s, y1: MAP.startTickY[0], x2: s, y2: MAP.startTickY[1] }, style: { stroke: '#000', lineWidth: 2 } }
        ] };
      }
    },
    // ORF cylinders
    {
      type: 'custom', xAxisIndex: 1, yAxisIndex: 1, clip: false, silent: true, z: 3,
      data: orfStart.map((s, i) => [s, 0.5, orfEnd[i]]),
      encode: { x: [0, 2], y: 1 },
      renderItem(params, api) {
        const i = params.dataIndex;
        const x0 = api.coord([api.value(0), 0.5])[0];
        const x1 = api.coord([api.value(2), 0.5])[0];
        const cy = orfTrack[i] === 'upper' ? MAP.upperY : MAP.lowerY;
        const parts = cylinder(x0, x1, cy, MAP.cylH, orfFill[i], orfCap[i], MAP.rx);
        const shift = 6 + (x1 - x0) * 0.018;
        parts.push(txt(orfNames[i], (x0 + x1) / 2 + shift, cy + 4, '30px ' + SERIF, '#000', 'center'));
        return { type: 'group', children: parts };
      }
    },
    // nsp boxes
    {
      type: 'custom', xAxisIndex: 1, yAxisIndex: 1, clip: false, silent: true, z: 3,
      data: nspStart.map((s, i) => [s, 0.5, nspEnd[i]]),
      encode: { x: [0, 2], y: 1 },
      renderItem(params, api) {
        const i = params.dataIndex;
        const x0 = api.coord([api.value(0), 0.5])[0];
        const x1 = api.coord([api.value(2), 0.5])[0];
        const top = nspRow[i] === 1 ? MAP.row1Top : MAP.row2Top;
        const h = nspRow[i] === 1 ? MAP.row1H : MAP.row2H;
        return { type: 'group', children: [
          { type: 'rect', shape: { x: x0, y: top, width: x1 - x0, height: h },
            style: { fill: nspRow[i] === 1 ? '#bf9000' : '#92d050', stroke: '#000', lineWidth: 3 } },
          txt(nspNames[i], (x0 + x1) / 2, top + h / 2 + 3, '22px ' + SERIF, '#000', 'center')
        ] };
      }
    },
    // zoom connectors
    {
      type: 'custom', xAxisIndex: 1, yAxisIndex: 1, clip: false, silent: true, z: 4,
      data: linkFrom.map((s, i) => [s, 0.5, linkTo[i]]),
      encode: { x: [0, 2], y: 1 },
      renderItem(params, api) {
        const i = params.dataIndex;
        const x0 = api.coord([api.value(0), 0.5])[0];
        const x1 = api.coord([api.value(2), 0.5])[0];
        return { type: 'line', shape: { x1: x0, y1: MAP.linkTopY[i], x2: x1, y2: MAP.linkBottomY[i] },
          style: { stroke: '#000', lineWidth: 2.5 } };
      }
    }
  ].concat(treeSeries(treeBNodes, lineagesB, TREE_B, 2), treeSeries(treeCNodes, lineagesC, TREE_C, 3)),
  graphic: [
    txt('A', 14, 12, 'bold 31px ' + SANS, '#000', 'left', 'top'),
    txt('B', 14, 1168, 'bold 31px ' + SANS, '#000', 'left', 'top'),
    txt('C', 1013, 1168, 'bold 31px ' + SANS, '#000', 'left', 'top'),
    txt('Query:BL2019', 1007, 55, '35px ' + SERIF, '#000', 'center'),
    txt('Pos', 56, 825, 'bold 16px ' + SANS, '#e00000', 'center'),
    txt('Windows: 500bp, Step: 20bp', 1000, 771, '28px ' + SERIF),
    txt('Gap Strip: On, Kimura(2-parameter)', 1000, 805, '28px ' + SERIF),
    legendGraphic
  ]
};

chart.setOption(option);
</script>
</body>
</html>
